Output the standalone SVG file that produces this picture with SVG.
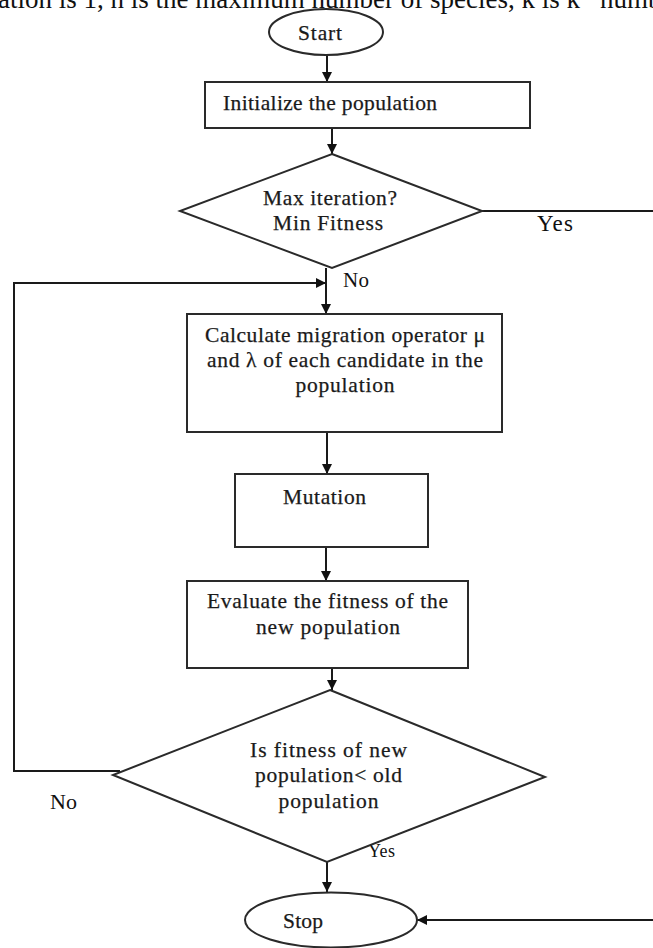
<svg xmlns="http://www.w3.org/2000/svg" width="653" height="948" viewBox="0 0 653 948">
<defs>
<marker id="ah" markerUnits="userSpaceOnUse" markerWidth="10" markerHeight="10" refX="10" refY="5" orient="auto">
<path d="M0,0 L10,5 L0,10 z" fill="#111"/>
</marker>
<style>
.shape{fill:#fff;stroke:#2a2a2a;stroke-width:2}
.conn{fill:none;stroke:#1a1a1a;stroke-width:2}
.t{font-family:"Liberation Serif","Times New Roman",serif;font-size:21.5px;fill:#1a1a1a;stroke:#1a1a1a;stroke-width:0.25}
.tc{text-anchor:middle}
.lbl{font-family:"Liberation Serif","Times New Roman",serif;fill:#111}
</style>
</defs>
<rect width="653" height="948" fill="#fff"/>
<text class="lbl" x="-2" y="8" font-size="27">ation is 1, n is the maximum number of species, k is k<tspan font-size="17" dy="-12">th</tspan><tspan dy="12"> numb</tspan></text>
<g id="connectors">
<line class="conn" x1="327" y1="52" x2="327" y2="82" marker-end="url(#ah)"/>
<line class="conn" x1="332" y1="128" x2="332" y2="154" marker-end="url(#ah)"/>
<line class="conn" x1="326" y1="268" x2="326" y2="314" marker-end="url(#ah)"/>
<line class="conn" x1="482" y1="211" x2="653" y2="211"/>
<polyline class="conn" points="120,771 14,771 14,283 326,283" marker-end="url(#ah)"/>
<line class="conn" x1="327" y1="432" x2="327" y2="474" marker-end="url(#ah)"/>
<line class="conn" x1="326" y1="547" x2="326" y2="581" marker-end="url(#ah)"/>
<line class="conn" x1="332" y1="668" x2="332" y2="690" marker-end="url(#ah)"/>
<line class="conn" x1="327" y1="862" x2="327" y2="892" marker-end="url(#ah)"/>
<line class="conn" x1="653" y1="920" x2="417" y2="920" marker-end="url(#ah)"/>
<text class="lbl" x="537" y="231" font-size="23" textLength="36">Yes</text>
<text class="lbl" x="343" y="287" font-size="21" textLength="26">No</text>
<text class="lbl" x="50" y="809" font-size="22" textLength="27">No</text>
<text class="lbl" x="368" y="857" font-size="18" textLength="27">Yes</text>
</g>
<g id="start">
<ellipse class="shape" cx="326" cy="32" rx="57" ry="23"/>
<text class="t" x="298" y="40" font-size="20" textLength="44">Start</text>
</g>
<g id="init">
<rect class="shape" x="205" y="82" width="325" height="46"/>
<text class="t" x="223" y="110" textLength="214">Initialize the population</text>
</g>
<g id="check-termination">
<polygon class="shape" points="332,154 482,211 332,268 180,211"/>
<text class="t" x="263" y="205" textLength="134">Max iteration?</text>
<text class="t" x="273" y="230" textLength="110">Min Fitness</text>
</g>
<g id="migration">
<rect class="shape" x="187" y="314" width="315" height="118"/>
<text class="t tc" x="345" y="342" textLength="280">Calculate migration operator μ</text>
<text class="t tc" x="345" y="367" textLength="276">and λ of each candidate in the</text>
<text class="t tc" x="345" y="392" textLength="99">population</text>
</g>
<g id="mutation">
<rect class="shape" x="235" y="474" width="193" height="73"/>
<text class="t" x="283" y="504" textLength="83">Mutation</text>
</g>
<g id="evaluate">
<rect class="shape" x="187" y="581" width="281" height="87"/>
<text class="t tc" x="327.5" y="608" textLength="241">Evaluate the fitness of the</text>
<text class="t tc" x="328" y="634" textLength="144">new population</text>
</g>
<g id="compare">
<polygon class="shape" points="330,690 545,777 327,862 113,775"/>
<text class="t tc" x="328.5" y="757" textLength="157">Is fitness of new</text>
<text class="t tc" x="328.5" y="782" textLength="147">population&lt; old</text>
<text class="t tc" x="328.5" y="808" textLength="100">population</text>
</g>
<g id="stop">
<ellipse class="shape" cx="331" cy="920" rx="86" ry="27.5"/>
<text class="t" x="283" y="928" font-size="22" textLength="40">Stop</text>
</g>
</svg>
